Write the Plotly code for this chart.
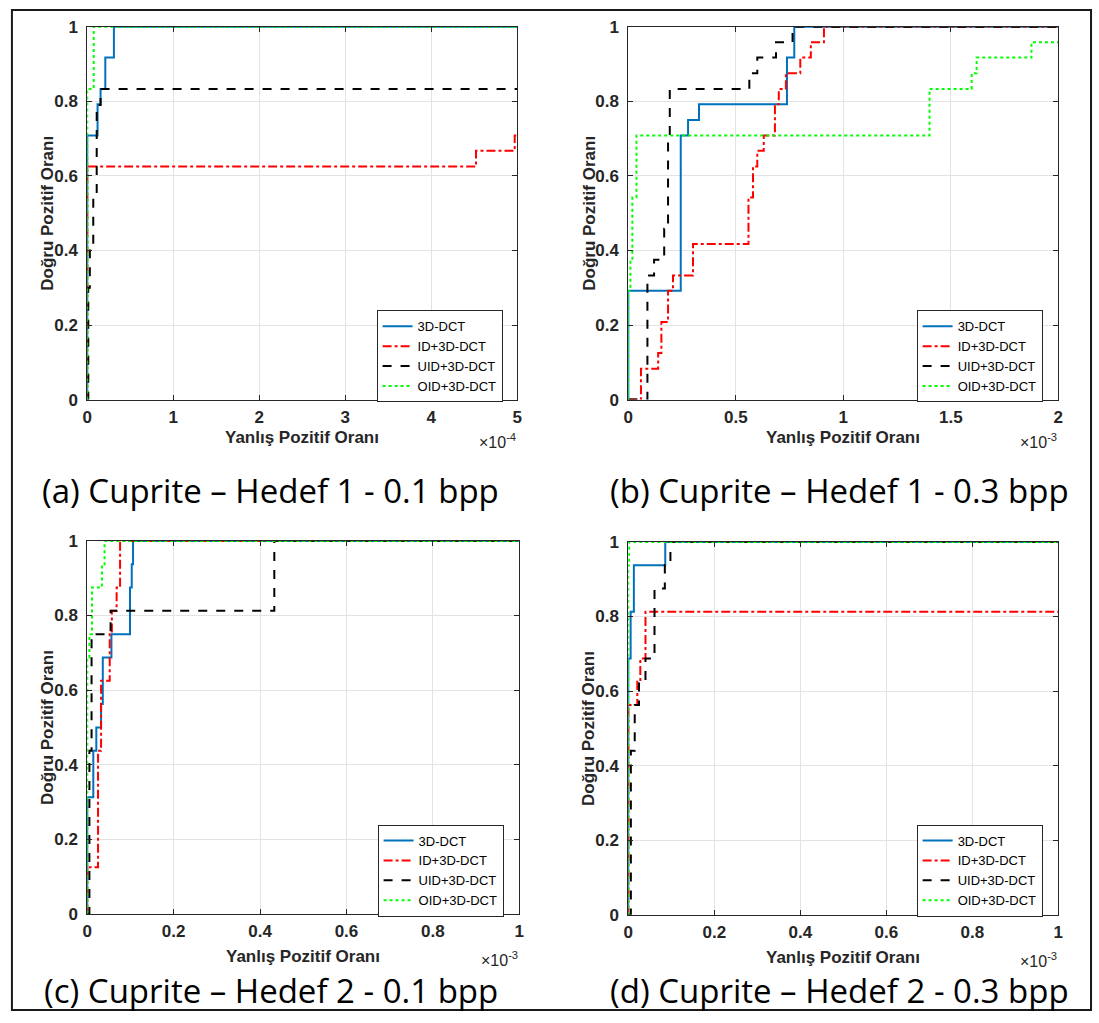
import plotly.graph_objects as go

# ---------------- data (x values in units shown on axis: x10^-4 for (a), x10^-3 for others)
series_names = ["3D-DCT", "ID+3D-DCT", "UID+3D-DCT", "OID+3D-DCT"]

# (a) Cuprite - Hedef 1 - 0.1 bpp  (x * 1e-4)
a_dct_x = [0, 0, 0.12, 0.155, 0.21, 0.31, 5]
a_dct_y = [0, 0.708, 0.792, 0.833, 0.917, 1, 1]
a_id_x = [0, 0, 4.52, 4.97, 5]
a_id_y = [0, 0.625, 0.667, 0.708, 0.708]
a_uid_x = [0, 0.012, 0.03, 0.07, 0.11, 0.155, 5]
a_uid_y = [0, 0.3, 0.4, 0.55, 0.79, 0.833, 0.833]
a_oid_x = [0, 0, 0.075, 5]
a_oid_y = [0, 0.833, 1, 1]

# (b) Cuprite - Hedef 1 - 0.3 bpp  (x * 1e-3)
b_dct_x = [0, 0, 0.244, 0.278, 0.329, 0.738, 0.772, 2]
b_dct_y = [0, 0.292, 0.708, 0.75, 0.792, 0.917, 1, 1]
b_id_x = [0, 0.059, 0.139, 0.154, 0.185, 0.208, 0.301, 0.559, 0.58, 0.6, 0.63,
          0.682, 0.70, 0.733, 0.80, 0.849, 0.91, 2]
b_id_y = [0, 0.083, 0.125, 0.208, 0.292, 0.333, 0.417, 0.542, 0.625, 0.667, 0.708,
          0.792, 0.833, 0.875, 0.917, 0.958, 1, 1]
b_uid_x = [0, 0.089, 0.12, 0.167, 0.185, 0.193, 0.563, 0.6, 0.687, 0.764, 2]
b_uid_y = [0, 0.333, 0.375, 0.458, 0.708, 0.833, 0.875, 0.917, 0.958, 1, 1]
b_oid_x = [0, 0, 0.01, 0.019, 0.038, 1.401, 1.597, 1.62, 1.875, 2]
b_oid_y = [0, 0.292, 0.375, 0.542, 0.708, 0.833, 0.875, 0.917, 0.958, 0.958]

# (c) Cuprite - Hedef 2 - 0.1 bpp  (x * 1e-3)
c_dct_x = [0, 0, 0.014, 0.021, 0.032, 0.036, 0.056, 0.099, 0.103, 0.106, 1]
c_dct_y = [0, 0.3125, 0.4375, 0.5, 0.5625, 0.6875, 0.75, 0.875, 0.9375, 1, 1]
c_id_x = [0, 0, 0.025, 0.032, 0.052, 0.057, 0.068, 0.076, 1]
c_id_y = [0, 0.125, 0.4375, 0.625, 0.75, 0.8125, 0.875, 1, 1]
c_uid_x = [0, 0.005, 0.01, 0.054, 0.433, 1]
c_uid_y = [0, 0.4375, 0.75, 0.8125, 1, 1]
c_oid_x = [0, 0, 0.005, 0.011, 0.034, 0.04, 1]
c_oid_y = [0, 0.6875, 0.75, 0.875, 0.9375, 1, 1]

# (d) Cuprite - Hedef 2 - 0.3 bpp  (x * 1e-3)
d_dct_x = [0, 0, 0.0055, 0.013, 0.086, 1]
d_dct_y = [0, 0.6875, 0.8125, 0.9375, 1, 1]
d_id_x = [0, 0, 0.021, 0.028, 0.040, 1]
d_id_y = [0, 0.5625, 0.625, 0.6875, 0.8125, 0.8125]
d_uid_x = [0, 0.006, 0.015, 0.025, 0.040, 0.061, 0.085, 0.098, 1]
d_uid_y = [0, 0.44, 0.5625, 0.625, 0.6875, 0.875, 0.9375, 1, 1]
d_oid_x = [0, 0, 0.002, 1]
d_oid_y = [0, 0.9375, 1, 1]

captions = ["(a) Cuprite \u2013 Hedef 1 - 0.1 bpp", "(b) Cuprite \u2013 Hedef 1 - 0.3 bpp",
            "(c) Cuprite \u2013 Hedef 2 - 0.1 bpp", "(d) Cuprite \u2013 Hedef 2 - 0.3 bpp"]
x_title = "Yanl\u0131\u015f Pozitif Oran\u0131"
y_title = "Do\u011fru Pozitif Oran\u0131"
exponents = ["\u00d710<sup>-4</sup>", "\u00d710<sup>-3</sup>", "\u00d710<sup>-3</sup>", "\u00d710<sup>-3</sup>"]

a_ticks = [0, 1, 2, 3, 4, 5]
a_ticktext = ["0", "1", "2", "3", "4", "5"]
b_ticks = [0, 0.5, 1, 1.5, 2]
b_ticktext = ["0", "0.5", "1", "1.5", "2"]
cd_ticks = [0, 0.2, 0.4, 0.6, 0.8, 1]
cd_ticktext = ["0", "0.2", "0.4", "0.6", "0.8", "1"]
y_ticks = [0, 0.2, 0.4, 0.6, 0.8, 1]
y_ticktext = ["0", "0.2", "0.4", "0.6", "0.8", "1"]

# ---------------- figure
W, H = 1099, 1023
fig = go.Figure()

styles = [
    dict(color="#0072BD", dash="solid", width=2),
    dict(color="#FF0000", dash="dashdot", width=2),
    dict(color="#000000", dash="dash", width=2),
    dict(color="#00FF00", dash="dot", width=2),
]

panels = [
    [(a_dct_x, a_dct_y), (a_id_x, a_id_y), (a_uid_x, a_uid_y), (a_oid_x, a_oid_y)],
    [(b_dct_x, b_dct_y), (b_id_x, b_id_y), (b_uid_x, b_uid_y), (b_oid_x, b_oid_y)],
    [(c_dct_x, c_dct_y), (c_id_x, c_id_y), (c_uid_x, c_uid_y), (c_oid_x, c_oid_y)],
    [(d_dct_x, d_dct_y), (d_id_x, d_id_y), (d_uid_x, d_uid_y), (d_oid_x, d_oid_y)],
]

# pixel boxes of plot areas: (left, right, top, bottom)
boxes = [(83, 517, 18, 398), (629, 1063, 18, 398), (83, 519, 542, 922), (629, 1063, 543, 923)]
xranges = [[0, 5], [0, 2], [0, 1], [0, 1]]
xticks = [(a_ticks, a_ticktext), (b_ticks, b_ticktext), (cd_ticks, cd_ticktext), (cd_ticks, cd_ticktext)]
legend_pos = [(375, 307), (920, 307), (376, 831), (920, 831)]
caption_pos = [(268, 491), (842, 491), (268, 1000), (842, 1000)]
xtitle_off = [39, 39, 43, 43]

def px(x):
    return x / W

def py(y):
    return 1 - y / H

tickfont = dict(family="Liberation Sans, Arial", size=17, color="#262626", weight="bold")
axis_common = dict(showline=True, mirror="ticks", linecolor="#262626", linewidth=1,
                   ticks="inside", ticklen=5, tickcolor="#262626", tickwidth=1,
                   showgrid=True, gridcolor="#e3e3e3", gridwidth=1, zeroline=False,
                   tickfont=tickfont, fixedrange=True)

layout_upd = {}
annotations = []
for i in range(4):
    sfx = "" if i == 0 else str(i + 1)
    xa = "x" + sfx
    ya = "y" + sfx
    lg = "legend" + sfx
    for j, (xs, ys) in enumerate(panels[i]):
        fig.add_trace(go.Scatter(
            x=xs, y=ys, mode="lines", line=dict(shape="hv", **styles[j]),
            name=series_names[j], xaxis=xa, yaxis=ya, legend=lg, showlegend=True,
        ))
    l, r, t, b = boxes[i]
    layout_upd["xaxis" + sfx] = dict(domain=[px(l), px(r)], range=xranges[i], anchor=ya,
                                     tickvals=xticks[i][0], ticktext=xticks[i][1],
                                     ticklabelstandoff=2, **axis_common)
    layout_upd["yaxis" + sfx] = dict(domain=[py(b), py(t)], range=[0, 1], anchor=xa,
                                     tickvals=y_ticks, ticktext=y_ticktext,
                                     ticklabelstandoff=5, **axis_common)
    lx, ly = legend_pos[i]
    layout_upd[lg] = dict(x=px(lx), y=py(ly), xanchor="left", yanchor="top",
                          bgcolor="white", bordercolor="#262626", borderwidth=1,
                          font=dict(family="Liberation Sans, Arial", size=13, color="#000000"),
                          tracegroupgap=0, itemwidth=30)
    # axis titles
    annotations.append(dict(text="<b>" + x_title + "</b>", x=px((l + r) / 2), y=py(b + xtitle_off[i]),
                            xref="paper", yref="paper", showarrow=False, xanchor="center", yanchor="middle",
                            font=dict(family="Liberation Sans, Arial", size=17, color="#262626")))
    annotations.append(dict(text="<b>" + y_title + "</b>", x=px(l - 40), y=py((t + b) / 2),
                            xref="paper", yref="paper", showarrow=False, textangle=-90,
                            xanchor="center", yanchor="middle",
                            font=dict(family="Liberation Sans, Arial", size=17, color="#262626")))
    annotations.append(dict(text=exponents[i], x=px(r + 1), y=py(b + xtitle_off[i] + 3),
                            xref="paper", yref="paper", showarrow=False, xanchor="right", yanchor="middle",
                            font=dict(family="Liberation Sans, Arial", size=16, color="#262626")))
    cx, cy = caption_pos[i]
    annotations.append(dict(text=captions[i], x=px(cx), y=py(cy), xref="paper", yref="paper",
                            showarrow=False, xanchor="center", yanchor="middle",
                            font=dict(family="Open Sans, Lato", size=33, color="#000000")))

fig.update_layout(
    width=W, height=H, margin=dict(l=0, r=0, t=0, b=0, pad=0),
    paper_bgcolor="white", plot_bgcolor="white",
    annotations=annotations,
    shapes=[dict(type="rect", xref="paper", yref="paper", x0=px(7), x1=px(1096), y0=py(1020), y1=py(1),
                 line=dict(color="#1a1a1a", width=2), fillcolor="rgba(0,0,0,0)")],
    **layout_upd,
)

fig.write_html("out.html", config={"displayModeBar": False})
